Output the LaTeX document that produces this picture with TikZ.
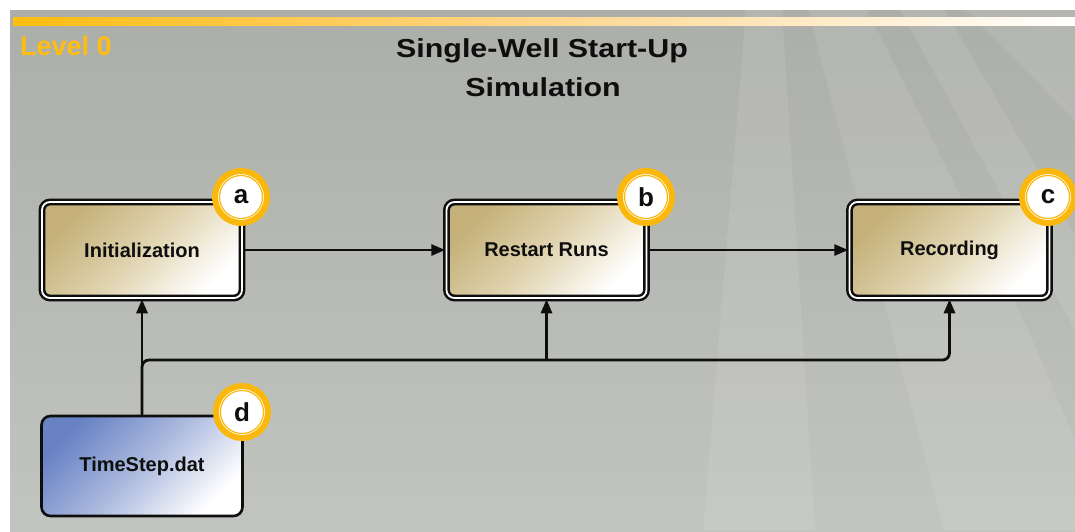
\documentclass[tikz,border=0pt]{standalone}
\usepackage{fontspec}
\setmainfont{Liberation Sans}
\usetikzlibrary{arrows.meta}
\definecolor{bgtop}{RGB}{172,174,170}
\definecolor{bgbot}{RGB}{194,196,192}
\definecolor{gold}{RGB}{255,189,16}
\definecolor{goldmid}{RGB}{255,214,140}
\definecolor{tanc}{RGB}{196,176,120}
\definecolor{tanmid}{RGB}{224,212,176}
\definecolor{bluec}{RGB}{104,130,196}
\definecolor{bluemid}{RGB}{172,186,222}
\definecolor{badgey}{RGB}{250,184,12}
\definecolor{ink}{RGB}{14,14,14}
\begin{document}
\begin{tikzpicture}[x=1pt,y=-1pt,
  procbox/.style={draw=ink, line width=2.5pt, double=white, double distance=1.8pt,
    rounded corners=8pt, minimum width=200pt, minimum height=96pt, inner sep=0pt,
    left color=tanc, right color=white, middle color=tanmid, shading angle=45,
    font=\bfseries\fontsize{20}{24}\selectfont, text=ink},
  filebox/.style={draw=ink, line width=2.6pt, rounded corners=9pt,
    minimum width=201pt, minimum height=100pt, inner sep=0pt,
    left color=bluec, right color=white, middle color=bluemid, shading angle=45,
    font=\bfseries\fontsize{20}{24}\selectfont, text=ink},
  badge/.style={circle, fill=white, draw=badgey, line width=6pt, minimum size=52pt,
    inner sep=0pt, font=\bfseries\fontsize{26}{26}\selectfont, text=ink},
  badgering/.style={draw=badgey, line width=1.2pt},
  conn/.style={draw=ink, line width=2.8pt, -{Triangle[length=14pt,width=11pt]}},
  ray/.style={fill=white, opacity=0.09}
]
\useasboundingbox (0,0) rectangle (1075,531);
% background
\fill[white] (0,0) rectangle (1075,531);
\shade[top color=bgtop, bottom color=bgbot] (10,10) rectangle (1075,531);
% light rays
\begin{scope}
\clip (10,10) rectangle (1075,531);
\fill[ray] (746,10) -- (782,10) -- (815,531) -- (703,531) -- cycle;
\fill[ray] (808,10) -- (867,10) -- (1028,330) -- (1075,440) -- (1075,531) -- (944,531) -- cycle;
\fill[ray] (900,10) -- (945,10) -- (1075,235) -- (1075,330) -- cycle;
\fill[ray] (965,10) -- (1075,10) -- (1075,120) -- cycle;
\end{scope}
% gold bar
\shade[left color=gold, right color=white, middle color=goldmid] (13,17) rectangle (1075,25);
% titles
\node[anchor=base west, inner sep=0pt, text=gold, font=\bfseries\fontsize{27}{30}\selectfont] (lvl) at (20,55) {Level 0};
\node[anchor=base, inner sep=0pt, text=ink, font=\bfseries\fontsize{26}{30}\selectfont] (t1) at (542,57) {\scalebox{1.17}[1]{Single-Well Start-Up}};
\node[anchor=base, inner sep=0pt, text=ink, font=\bfseries\fontsize{26}{30}\selectfont] (t2) at (543,96) {\scalebox{1.17}[1]{Simulation}};
% boxes
\node[procbox] (a) at (142,250) {Initialization};
\node[procbox] (b) at (546.5,250) {Restart Runs};
\node[procbox] (c) at (949.5,250) {Recording};
\node[filebox] (d) at (142,466) {TimeStep.dat};
% connectors
\coordinate (hy) at (0,360);
\draw[conn] (a.east) -- (b.west);
\draw[conn] (b.east) -- (c.west);
\draw[conn] (d.north) -- (a.south);
\draw[conn, rounded corners=7pt] (d.north) -- (d.north |- hy) -| (c.south);
\draw[conn] (b.south |- hy) -- (b.south);
% badges
\node[badge] (ba) at (241,197) {a};
\node[badge] (bb) at (646,197) {b};
\node[badge] (bc) at (1048,197) {c};
\node[badge] (bd) at (242,412) {d};
\foreach \n in {ba,bb,bc,bd} {
  \draw[badgering] (\n.center) circle[radius=21.5];
}
\end{tikzpicture}
\end{document}
